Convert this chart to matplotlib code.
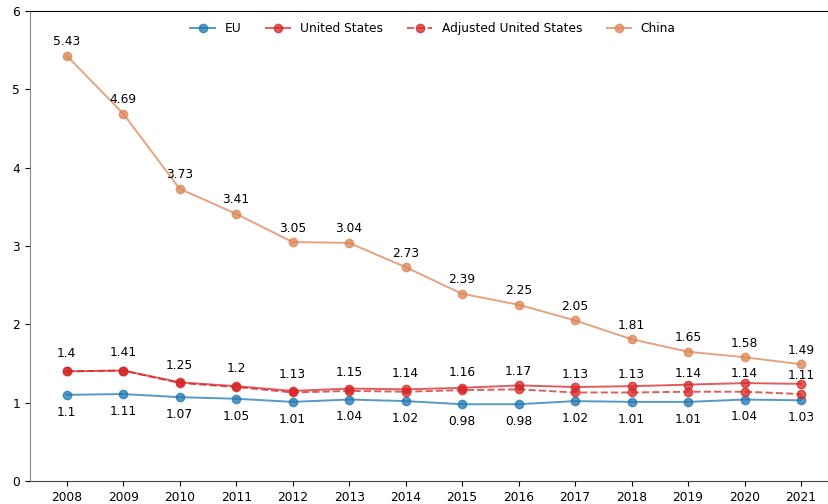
import matplotlib
matplotlib.use("Agg")
import matplotlib.pyplot as plt

years = list(range(2008, 2022))
eu = [1.10, 1.11, 1.07, 1.05, 1.01, 1.04, 1.02, 0.98, 0.98, 1.02, 1.01, 1.01, 1.04, 1.03]
us = [1.40, 1.41, 1.26, 1.21, 1.15, 1.18, 1.17, 1.19, 1.22, 1.20, 1.21, 1.23, 1.25, 1.24]
us_adj = [1.40, 1.41, 1.25, 1.20, 1.13, 1.15, 1.14, 1.16, 1.17, 1.13, 1.13, 1.14, 1.14, 1.11]
china = [5.43, 4.69, 3.73, 3.41, 3.05, 3.04, 2.73, 2.39, 2.25, 2.05, 1.81, 1.65, 1.58, 1.49]

c_eu = "#1f77b4"
c_us = "#d62728"
c_cn = "#dd8452"

plt.rcParams["font.size"] = 8.8

fig = plt.figure(figsize=(8.29, 5.04), dpi=100)
ax = fig.add_axes([30/829, 23/504, 807.7/829, 470/504])

ax.plot(years, eu, "-o", color=c_eu, alpha=0.75, lw=1.4, ms=6, label="EU")
ax.plot(years, us, "-o", color=c_us, alpha=0.75, lw=1.4, ms=6, label="United States")
ax.plot(years, us_adj, "--o", color=c_us, alpha=0.75, lw=1.4, ms=6, label="Adjusted United States")
ax.plot(years, china, "-o", color=c_cn, alpha=0.75, lw=1.4, ms=6, label="China")

def fmt(v):
    s = f"{v:.2f}".rstrip("0").rstrip(".")
    return s

for x, v in zip(years, eu):
    ax.annotate(fmt(v), (x, v), xytext=(0, -12.5), textcoords="offset points",
                ha="center", va="center", fontsize=8.8)
for x, v in zip(years, us_adj):
    ax.annotate(fmt(v), (x, v), xytext=(0, 13), textcoords="offset points",
                ha="center", va="center", fontsize=8.8)
for x, v in zip(years, china):
    ax.annotate(fmt(v), (x, v), xytext=(0, 10), textcoords="offset points",
                ha="center", va="center", fontsize=8.8)

ax.set_xlim(2007.35, 2021.65)
ax.set_ylim(0, 6)
ax.set_xticks(years)
ax.set_yticks(range(0, 7))
ax.spines["left"].set_color("#888888")
ax.spines["bottom"].set_color("#444444")
ax.spines["right"].set_visible(False)

ax.legend(loc="upper center", ncol=4, frameon=False, fontsize=8.8, bbox_to_anchor=(0.499, 1.0))

fig.savefig("out.png", dpi=100)
